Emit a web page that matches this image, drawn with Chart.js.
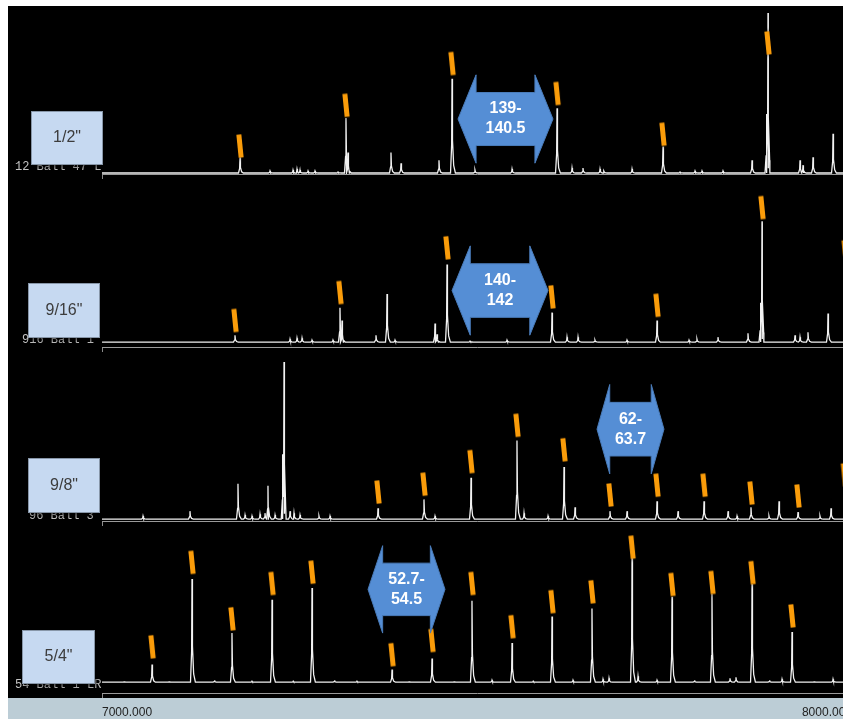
<!DOCTYPE html>
<html>
<head>
<meta charset="utf-8">
<script src="https://cdn.jsdelivr.net/npm/chart.js@4.4.1/dist/chart.umd.min.js"></script>
<style>
html, body { margin: 0; padding: 0; background: #fff; overflow: hidden; width: 843px; height: 719px; }
#black { position: absolute; left: 8px; top: 6px; width: 835px; height: 692px; background: #000; }
#bar { position: absolute; left: 8px; top: 698px; width: 835px; height: 21px; background: #bccdd6; }
canvas { position: absolute; left: 8px; }
</style>
</head>
<body>
<div id="black"></div>
<div id="bar"></div>
<canvas id="p1" width="850" height="178" style="top:6px"></canvas>
<canvas id="p2" width="850" height="175" style="top:180px"></canvas>
<canvas id="p3" width="850" height="177" style="top:352px"></canvas>
<canvas id="p4" width="850" height="197" style="top:522px"></canvas>
<script>
// m/z range and tick labels of the shared axis
const mzTicks = [7000, 8000];

// 1/2" spectrum
const p1Mz  = [7184, 7224, 7254.7, 7260, 7264, 7274.7, 7284, 7314.7, 7325.3, 7328, 7385.3, 7398.7, 7449.3, 7466.7, 7497.3, 7546.7, 7606.7, 7626.7, 7641.3, 7664, 7669.3, 7706.7, 7748, 7770.7, 7790.7, 7800, 7828, 7866.7, 7886, 7888, 7930.7, 7934.7, 7948, 7974.7];
const p1Int = [16, 2, 3, 4, 3, 2, 2, 1, 56, 21, 21, 10, 13, 96, 3, 4, 66, 5, 5, 4, 2, 4, 27, 1, 2, 2, 2, 13, 60, 163, 13, 8, 16, 40];
const p1TagMz = [7184, 7325.3, 7466.7, 7606.7, 7748, 7888];
const p1TagY  = [27.5, 69, 111.5, 81, 39.5, 132.5];

// 9/16" spectrum
const p2Mz  = [7177.3, 7250.7, 7260, 7266.7, 7280, 7308, 7317.3, 7320, 7365.3, 7380, 7390.7, 7444, 7446.7, 7460, 7490.7, 7540, 7600, 7620, 7634.7, 7657.3, 7700, 7740, 7782.7, 7793.3, 7821.3, 7861.3, 7878, 7880, 7924, 7930.7, 7941.3, 7968];
const p2Int = [7, 3, 4, 4, 2, 2, 35, 22, 7, 49, 2, 19, 8, 79, 1, 2, 30, 5, 5, 2, 2, 22, 2, 3, 5, 9, 40, 123, 7, 5, 10, 29];
const p2TagMz = [7177.3, 7317.3, 7460, 7600, 7740, 7880, 7991];
const p2TagY  = [22, 50.5, 96, 46, 37.5, 137, 92];

// 9/8" spectrum
const p3Mz  = [7054.7, 7117.3, 7181.3, 7190.7, 7200, 7210.7, 7217.3, 7221.3, 7230.7, 7241, 7242.7, 7250.7, 7256, 7264, 7289.3, 7304, 7368, 7429.3, 7444, 7492, 7553.3, 7562.7, 7594.7, 7616, 7630.7, 7677.3, 7700, 7740, 7768, 7802.7, 7834.7, 7846.7, 7865.3, 7889.3, 7902.7, 7928, 7957.3, 7972];
const p3Int = [3, 8, 36, 4, 3, 5, 6, 34, 4, 66, 160, 8, 6, 4, 3, 3, 11, 20, 3, 42, 80, 6, 3, 53, 12, 8, 8, 18, 8, 18, 8, 3, 12, 3, 18, 7, 3, 11];
const p3TagMz = [7368, 7429.3, 7492, 7553.3, 7616, 7677.3, 7740, 7802.7, 7865.3, 7928, 7990];
const p3TagY  = [27.5, 35.5, 58.5, 95.5, 70.5, 24.5, 34.5, 34.5, 26.5, 23.5, 45];

// 5/4" spectrum
const p4Mz  = [7030, 7066.7, 7090, 7120, 7150, 7173.3, 7200, 7226.7, 7255, 7280, 7310, 7340, 7386.7, 7410, 7440, 7470, 7493.3, 7520, 7546.7, 7575, 7600, 7628, 7653.3, 7668, 7676, 7706.7, 7714.7, 7740, 7760, 7790, 7813.3, 7837.3, 7845.3, 7866.7, 7890, 7906.7, 7920, 7950, 7974.7];
const p4Int = [1, 18, 1, 105, 2, 50, 1, 84, 1, 96, 2, 1, 13, 1, 24, 1, 83, 2, 40, 1, 67, 2, 75, 3, 4, 127, 6, 2, 87, 2, 90, 4, 5, 100, 2, 3, 51, 1, 3];
const p4TagMz = [7066.7, 7120, 7173.3, 7226.7, 7280, 7386.7, 7440, 7493.3, 7546.7, 7600, 7653.3, 7706.7, 7760, 7813.3, 7866.7, 7920];
const p4TagY  = [36, 122, 64.5, 100.5, 112, 28, 42.5, 100.5, 56.5, 82, 92, 137.5, 99.5, 101.5, 111.5, 67.5];

// spacing call-outs: [left tip m/z, right tip m/z, top, bottom], text lines
const p1Gap = [7474.7, 7601.3, 100, 10], p1GapText = ['139-', '140.5'];
const p2Gap = [7466.7, 7594.7, 98, 7],   p2GapText = ['140-', '142'];
const p3Gap = [7660, 7749.3, 137, 46],   p3GapText = ['62-', '63.7'];
const p4Gap = [7354.7, 7457.3, 139, 50], p4GapText = ['52.7-', '54.5'];

const sizes = ['1/2"', '9/16"', '9/8"', '5/4"'];
const sampleIds = ['12 Ball 47 L', '916 Ball 1', '96 Ball 3', '54 Ball 1 LR'];

// turn a peak list into a spiky trace
function trace(mz, ints) {
  const pts = [{x: 7000, y: 0}];
  mz.forEach((m, i) => {
    const h = ints[i];
    pts.push({x: m - 2, y: 0}, {x: m - 0.5, y: h * 0.3}, {x: m, y: h},
             {x: m + 0.6, y: h * 0.35}, {x: m + 2.2, y: h * 0.08}, {x: m + 4.5, y: 0});
  });
  pts.push({x: 8000, y: 0});
  return pts.sort((a, b) => a.x - b.x);
}

// orange peak tag used as point style
function makeTag() {
  const c = document.createElement('canvas');
  c.width = 18; c.height = 36;
  const g = c.getContext('2d');
  g.translate(9, 18);
  g.rotate(-0.1);
  g.shadowColor = 'rgba(0,0,0,0.9)';
  g.shadowBlur = 4;
  g.fillStyle = '#fa9c0a';
  g.fillRect(-2.5, -11.5, 5, 23);
  return c;
}
const tag = makeTag();

// labels, boxes and arrows
const decor = {
  id: 'decor',
  afterDatasetsDraw(chart, args, o) {
    const ctx = chart.ctx, xs = chart.scales.x, ys = chart.scales.y;
    const [m0, m3, v0, v1] = o.gap;
    const x0 = xs.getPixelForValue(m0), x3 = xs.getPixelForValue(m3);
    const y0 = ys.getPixelForValue(v0), y1 = ys.getPixelForValue(v1);
    const hw = (x3 - x0) * 0.19, x1 = x0 + hw, x2 = x3 - hw;
    const ym = (y0 + y1) / 2, s0 = y0 + (y1 - y0) * 0.2, s1 = y1 - (y1 - y0) * 0.2;
    ctx.save();
    ctx.beginPath();
    ctx.moveTo(x0, ym); ctx.lineTo(x1, y0); ctx.lineTo(x1, s0); ctx.lineTo(x2, s0);
    ctx.lineTo(x2, y0); ctx.lineTo(x3, ym); ctx.lineTo(x2, y1); ctx.lineTo(x2, s1);
    ctx.lineTo(x1, s1); ctx.lineTo(x1, y1); ctx.closePath();
    ctx.fillStyle = '#558ed5';
    ctx.fill();
    ctx.strokeStyle = '#4a7cba';
    ctx.lineWidth = 1;
    ctx.stroke();
    ctx.fillStyle = '#fff';
    ctx.font = 'bold 16px "Liberation Sans", Arial, sans-serif';
    ctx.textAlign = 'center';
    ctx.textBaseline = 'middle';
    const cx = (x0 + x3) / 2;
    ctx.fillText(o.gapText[0], cx, ym - 10);
    ctx.fillText(o.gapText[1], cx, ym + 10);
    ctx.restore();
  },
  afterDraw(chart, args, o) {
    const ctx = chart.ctx;
    ctx.save();
    ctx.fillStyle = '#c4c4c4';
    ctx.font = '12px "Liberation Mono", "Courier New", monospace';
    ctx.textAlign = 'left';
    ctx.textBaseline = 'alphabetic';
    ctx.fillText(o.id, o.idPos[0] - 8, o.idPos[1] - o.top);
    const [bx, by, bw, bh] = o.box;
    ctx.shadowColor = 'rgba(0,0,0,0.6)';
    ctx.shadowBlur = 4;
    ctx.shadowOffsetX = 2;
    ctx.shadowOffsetY = 2;
    ctx.fillStyle = '#c6d9f1';
    ctx.fillRect(bx - 8, by - o.top, bw, bh);
    ctx.shadowColor = 'transparent';
    ctx.strokeStyle = '#8796a8';
    ctx.lineWidth = 1;
    ctx.strokeRect(bx - 8 + 0.5, by - o.top + 0.5, bw - 1, bh - 1);
    ctx.fillStyle = '#3c3c3c';
    ctx.font = '16px "Liberation Sans", Arial, sans-serif';
    ctx.textAlign = 'center';
    ctx.textBaseline = 'middle';
    ctx.fillText(o.size, bx - 8 + bw / 2, by - o.top + bh / 2);
    ctx.restore();
  }
};

// axisH: height kept for the x axis under each panel
const panels = [
  {id: 'p1', top: 6,   pad: [2, 5], axisH: 5,  y: [-1, 165], mz: p1Mz, ints: p1Int, tmz: p1TagMz, ty: p1TagY, gap: p1Gap, gapText: p1GapText, box: [31, 111, 72, 54], idPos: [15, 170]},
  {id: 'p2', top: 180, pad: [2, 3], axisH: 5,  y: [-5, 160], mz: p2Mz, ints: p2Int, tmz: p2TagMz, ty: p2TagY, gap: p2Gap, gapText: p2GapText, box: [28, 283, 72, 55], idPos: [22, 343]},
  {id: 'p3', top: 352, pad: [2, 3], axisH: 5,  y: [-2, 165], mz: p3Mz, ints: p3Int, tmz: p3TagMz, ty: p3TagY, gap: p3Gap, gapText: p3GapText, box: [28, 458, 72, 55], idPos: [29, 519]},
  {id: 'p4', top: 522, pad: [2, 0], axisH: 26, y: [-11, 158], mz: p4Mz, ints: p4Int, tmz: p4TagMz, ty: p4TagY, gap: p4Gap, gapText: p4GapText, box: [22, 630, 73, 54], idPos: [15, 688]}
];

panels.forEach((p, i) => {
  const last = i === panels.length - 1;
  new Chart(document.getElementById(p.id), {
    type: 'line',
    data: {
      datasets: [
        {
          data: p.tmz.map((m, k) => ({x: m, y: p.ty[k]})),
          showLine: false,
          pointStyle: tag,
          pointRadius: 3,
          order: 0
        },
        {
          data: trace(p.mz, p.ints),
          borderColor: '#f2f2f2',
          borderWidth: 1.3,
          pointRadius: 0,
          tension: 0,
          order: 1
        }
      ]
    },
    options: {
      responsive: false,
      animation: false,
      devicePixelRatio: 1,
      layout: {padding: {left: 94, right: 6, top: p.pad[0], bottom: p.pad[1]}},
      plugins: {
        legend: {display: false},
        tooltip: {enabled: false},
        decor: {top: p.top, size: sizes[i], id: sampleIds[i], box: p.box, idPos: p.idPos, gap: p.gap, gapText: p.gapText}
      },
      scales: {
        x: {
          type: 'linear',
          min: mzTicks[0],
          max: mzTicks[1],
          afterBuildTicks: s => { s.ticks = mzTicks.map(v => ({value: v})); },
          afterFit: s => { s.height = p.axisH; s.paddingLeft = 0; s.paddingRight = 0; },
          grid: {display: true, drawOnChartArea: false, drawTicks: true, tickLength: 5, color: '#8a8a8a'},
          border: {display: true, color: '#9a9a9a'},
          ticks: {
            display: last,
            align: 'inner',
            maxRotation: 0,
            minRotation: 0,
            autoSkip: false,
            padding: 7,
            color: '#222',
            font: {family: '"Liberation Sans", Arial, sans-serif', size: 12},
            callback: v => v.toFixed(3)
          }
        },
        y: {display: false, min: p.y[0], max: p.y[1]}
      }
    },
    plugins: [decor]
  });
});
</script>
</body>
</html>
